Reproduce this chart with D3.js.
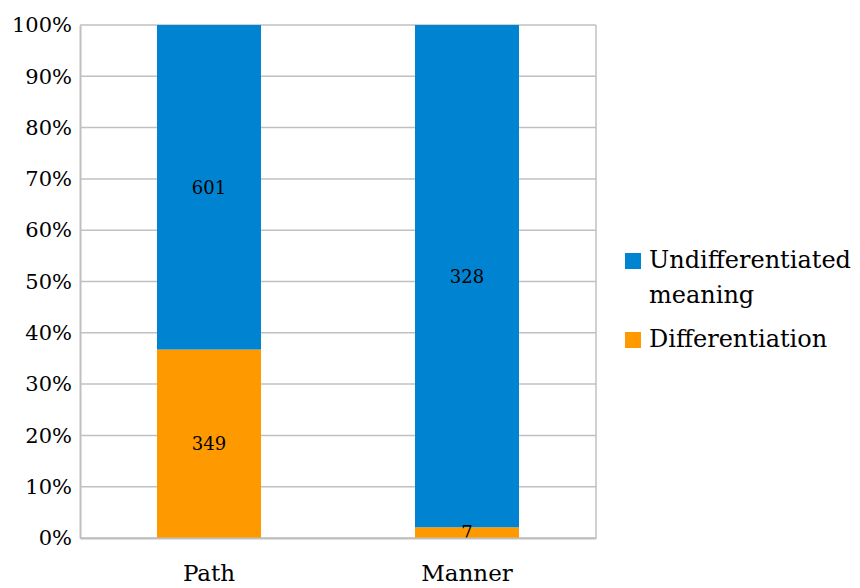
<!DOCTYPE html>
<html>
<head>
<meta charset="utf-8">
<script src="https://cdn.jsdelivr.net/npm/d3@7"></script>
<style>
  body { margin: 0; background: #fff; }
  svg { display: block; font-family: "DejaVu Serif", "Liberation Serif", serif; }
</style>
</head>
<body>
<svg></svg>
<script>
// Chart data
const categories = ["Path", "Manner"];
const seriesNames = ["Differentiation", "Undifferentiated meaning"];
const differentiation = [349, 7];
const undifferentiated = [601, 328];
const tickValues = [0, 0.1, 0.2, 0.3, 0.4, 0.5, 0.6, 0.7, 0.8, 0.9, 1];

const colors = { "Differentiation": "#ff9900", "Undifferentiated meaning": "#0083d1" };

const width = 860, height = 588;
const margin = { top: 25, right: 264, bottom: 50, left: 80 };

const svg = d3.select("svg")
    .attr("width", width)
    .attr("height", height);

// build rows for the stack
const rows = categories.map((c, i) => ({
    category: c,
    "Differentiation": differentiation[i],
    "Undifferentiated meaning": undifferentiated[i]
}));

const stacked = d3.stack()
    .keys(seriesNames)
    .offset(d3.stackOffsetExpand)(rows);

const x = d3.scaleBand()
    .domain(categories)
    .range([margin.left, width - margin.right])
    .paddingInner(0.597)
    .paddingOuter(0.2985);

const y = d3.scaleLinear()
    .domain([0, 1])
    .range([height - margin.bottom, margin.top]);

// Gridlines
svg.append("g")
    .selectAll("line")
    .data(tickValues)
    .join("line")
    .attr("x1", margin.left)
    .attr("x2", width - margin.right)
    .attr("y1", d => y(d))
    .attr("y2", d => y(d))
    .attr("stroke", "#c0c0c0")
    .attr("stroke-width", 1.5);

// right border of the plot
svg.append("line")
    .attr("x1", width - margin.right).attr("x2", width - margin.right)
    .attr("y1", margin.top).attr("y2", height - margin.bottom)
    .attr("stroke", "#c0c0c0")
    .attr("stroke-width", 1.5);

// Bars
svg.append("g")
    .selectAll("g")
    .data(stacked)
    .join("g")
    .attr("fill", d => colors[d.key])
    .selectAll("rect")
    .data(d => d)
    .join("rect")
    .attr("x", d => x(d.data.category))
    .attr("width", x.bandwidth())
    .attr("y", d => y(d[1]))
    .attr("height", d => y(d[0]) - y(d[1]));

// Data labels (drawn after all bars so small segments stay readable)
const labels = stacked.flatMap(layer => layer.map(p => ({ p, key: layer.key })));
svg.append("g")
    .selectAll("text")
    .data(labels)
    .join("text")
    .attr("x", d => x(d.p.data.category) + x.bandwidth() / 2)
    .attr("y", d => (y(d.p[0]) + y(d.p[1])) / 2)
    .attr("dy", "0.36em")
    .attr("text-anchor", "middle")
    .attr("fill", "#000")
    .attr("font-size", 18)
    .text(d => d.p.data[d.key]);

// Y axis
const yAxis = svg.append("g")
    .attr("transform", `translate(${margin.left},0)`)
    .call(d3.axisLeft(y).tickValues(tickValues).tickSize(0).tickPadding(8).tickFormat(d3.format(".0%")));
yAxis.select(".domain").attr("stroke", "#bfbfbf").attr("stroke-width", 2);
yAxis.selectAll("text")
    .attr("font-family", "DejaVu Serif")
    .attr("font-size", 21)
    .attr("fill", "#000");

// X axis
const xAxis = svg.append("g")
    .attr("transform", `translate(0,${height - margin.bottom})`)
    .call(d3.axisBottom(x).tickSize(0).tickPadding(27));
xAxis.select(".domain").attr("stroke", "#bfbfbf").attr("stroke-width", 2);
xAxis.selectAll("text")
    .attr("font-family", "DejaVu Serif")
    .attr("font-size", 23)
    .attr("fill", "#000");

// Legend
const legendItems = [
    { key: "Undifferentiated meaning", lines: ["Undifferentiated", "meaning"], y: 253 },
    { key: "Differentiation", lines: ["Differentiation"], y: 332 }
];
const legend = svg.append("g");
legendItems.forEach(item => {
    legend.append("rect")
        .attr("x", 625)
        .attr("y", item.y)
        .attr("width", 16)
        .attr("height", 16)
        .attr("fill", colors[item.key]);
    item.lines.forEach((line, i) => {
        legend.append("text")
            .attr("x", 649)
            .attr("y", item.y + 15 + i * 35)
            .attr("font-size", 24)
            .attr("fill", "#000")
            .text(line);
    });
});
</script>
</body>
</html>
